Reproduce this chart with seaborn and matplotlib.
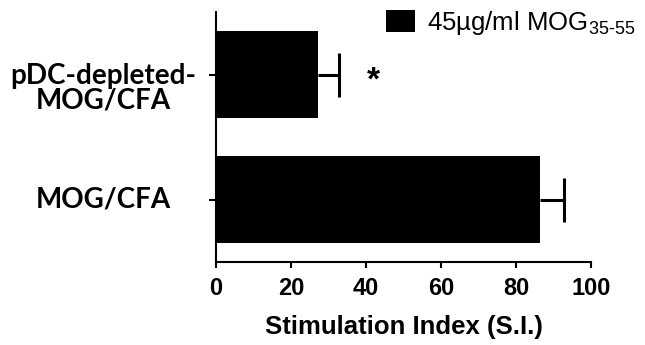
import matplotlib
matplotlib.use('Agg')
import matplotlib.pyplot as plt
import matplotlib.transforms as mtransforms
import seaborn as sns
import pandas as pd
import numpy as np

categories = ["pDC-depleted-\nMOG/CFA", "MOG/CFA"]
means = [27.3, 86.3]
sems = [5.6, 6.4]
significance = ["*", ""]
series_label = r"45µg/ml MOG$_{35\text{-}55}$"
xticks = [0, 20, 40, 60, 80, 100]
xlabel = "Stimulation Index (S.I.)"

sns.set_style("ticks")
plt.rcParams['font.family'] = ['Liberation Sans', 'DejaVu Sans']
plt.rcParams['mathtext.fontset'] = 'custom'
plt.rcParams['mathtext.rm'] = 'Liberation Sans'
plt.rcParams['mathtext.default'] = 'regular'
for k in ['text.color', 'axes.labelcolor', 'xtick.color', 'ytick.color', 'axes.edgecolor']:
    plt.rcParams[k] = 'black'

df = pd.DataFrame({"category": categories, "value": means})

fig = plt.figure(figsize=(6.45, 3.45), dpi=100)
ax = fig.add_axes([216/645, 1-262/345, 375/645, 250/345])

sns.barplot(data=df, x="value", y="category", orient="h", color="black",
            saturation=1, width=0.7, errorbar=None, ax=ax,
            edgecolor="black", linewidth=0, label=series_label)

pos = np.arange(len(categories))
ends = np.array(means) + np.array(sems)
ax.hlines(pos, means, ends, colors='black', linewidth=2.2)
ax.scatter(ends, pos, marker='|', s=(32)**2, linewidths=2.2, color='black', zorder=3)

for e, p, sg in zip(ends, pos, significance):
    if sg:
        ax.annotate(sg, xy=(e, p), xytext=(20, -5), textcoords='offset points',
                    ha='left', va='center', fontsize=24, fontweight='bold')

ax.set_xlim(0, 100)
ax.set_ylim(len(categories) - 0.5, -0.5)
ax.set_xticks(xticks)
ax.set_xticklabels([str(t) for t in xticks], fontsize=17, fontweight='bold')
ax.set_xlabel(xlabel, fontsize=18.5, fontweight='bold', labelpad=11)
ax.set_ylabel("")
ax.set_yticks(pos)
ax.set_yticklabels([])
ytrans = ax.get_yaxis_transform()
for cat, p in zip(categories, pos):
    nlines = cat.count("\n")
    off = mtransforms.ScaledTranslation(0, -14/100 * nlines, fig.dpi_scale_trans)
    ax.text((103 - 216) / 375, p, cat, transform=ytrans + off,
            family=['Lato', 'DejaVu Sans'], fontsize=20, fontweight='bold',
            ha='center', va='center', multialignment='center', linespacing=0.95)
ax.tick_params(axis='y', length=5, width=1.5)
ax.tick_params(axis='x', length=4.5, width=1.5, pad=6)
for sp in ['top', 'right']:
    ax.spines[sp].set_visible(False)
for sp in ['left', 'bottom']:
    ax.spines[sp].set_linewidth(1.5)

fs = 18.5
fpx = fs * 100 / 72
leg = ax.legend(loc='upper left', bbox_to_anchor=(386/645, 1-9/345),
                bbox_transform=fig.transFigure, frameon=False, fontsize=fs,
                borderpad=0, borderaxespad=0, handlelength=29/fpx,
                handleheight=24/fpx, handletextpad=12/fpx)

fig.savefig("out.png", dpi=100)
